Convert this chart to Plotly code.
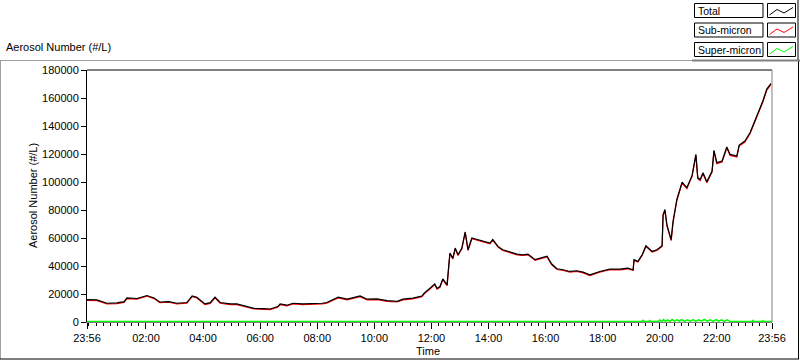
import pandas as pd
import plotly.graph_objects as go

# ---------------- data (minutes after 23:56 start, values in #/L) ----------------
total_min = [0, 21, 42, 63, 78, 84, 105, 126, 141, 153, 172, 189, 210, 221, 231, 248, 259, 269, 280,
             301, 315, 330, 351, 372, 385, 401, 406, 420, 433, 454, 475, 494, 504, 528, 547, 574, 589,
             610, 631, 652, 664, 685, 704, 710, 721, 731, 736, 742, 748, 757, 761, 763, 769, 774, 780,
             788, 795, 801, 809, 820, 832, 847, 853, 864, 874, 889, 904, 916, 927, 942, 956, 967, 977,
             988, 1001, 1015, 1030, 1043, 1057, 1068, 1078, 1099, 1120, 1137, 1148, 1150, 1158, 1167,
             1175, 1188, 1198, 1209, 1211, 1215, 1219, 1228, 1232, 1240, 1247, 1251, 1261, 1272, 1280,
             1284, 1289, 1295, 1303, 1314, 1318, 1324, 1335, 1345, 1352, 1366, 1371, 1383, 1394, 1404,
             1413, 1421, 1429, 1438]
total_val = [16000, 15800, 13400, 13600, 14500, 17200, 16800, 18900, 17200, 14300, 14600, 13400, 13900,
             18600, 17700, 12900, 13800, 17700, 13900, 12900, 12900, 11500, 9800, 9500, 9300, 11000,
             12900, 12000, 13400, 12900, 12900, 13400, 13900, 17700, 16300, 18600, 16300, 16500, 15300,
             14800, 16300, 17000, 18600, 21000, 24100, 27200, 24000, 25300, 30800, 26500, 42100, 49300,
             45500, 52800, 48000, 52800, 64300, 51600, 60000, 59000, 57600, 56400, 58900, 54000, 51600,
             50000, 48500, 48000, 48500, 44500, 45700, 47000, 41400, 38000, 37300, 36100, 36600, 35600,
             33700, 35100, 36100, 37800, 37800, 38500, 37300, 44500, 43300, 48000, 54500, 50400, 51600,
             54500, 76700, 80300, 69600, 58800, 71900, 87500, 94700, 99900, 95900, 104700, 119700,
             103000, 101800, 106600, 100200, 107800, 122600, 113800, 115000, 125000, 119700, 118500,
             126400, 129300, 135300, 143600, 150800, 158000, 166400, 170400]
sub_val = [15500, 15300, 12900, 13100, 14000, 16700, 16300, 18400, 16700, 13800, 14100, 12900, 13400,
           18100, 17200, 12400, 13300, 17200, 13400, 12400, 12400, 11000, 9300, 9000, 8800, 10500,
           12400, 11500, 12900, 12400, 12400, 12900, 13400, 17200, 15800, 18100, 15800, 16000, 14800,
           14300, 15800, 16500, 18100, 20500, 23600, 26700, 23500, 24800, 30300, 26000, 41600, 48800,
           45000, 52300, 47500, 52300, 63800, 51100, 59500, 58500, 57100, 55900, 58400, 53500, 51100,
           49500, 48000, 47500, 48000, 44000, 45200, 46500, 40900, 37500, 36800, 35600, 36100, 35100,
           33200, 34600, 35600, 37300, 37300, 38000, 36800, 44000, 42800, 47500, 54000, 49900, 51100,
           54000, 76000, 79600, 68900, 58100, 71200, 86800, 94000, 99200, 95200, 104000, 119000,
           102300, 101100, 105900, 99500, 107100, 121900, 113100, 114300, 124300, 119000, 117800,
           125700, 128600, 134600, 142900, 150100, 157300, 165700, 169700]
super_min = [0, 120, 240, 360, 480, 600, 720, 840, 960, 1080, 1166, 1169, 1172, 1180, 1183, 1186, 1202,
             1204, 1208, 1212, 1216, 1220, 1225, 1230, 1235, 1240, 1245, 1250, 1256, 1262, 1268, 1274,
             1280, 1286, 1292, 1298, 1304, 1310, 1316, 1322, 1328, 1334, 1340, 1346, 1352, 1360, 1398,
             1400, 1402, 1419, 1421, 1423, 1440]
super_val = [300, 250, 300, 200, 250, 300, 350, 300, 250, 300, 300, 1300, 300, 300, 1100, 300, 300,
             1500, 400, 1700, 500, 1500, 400, 1800, 600, 1600, 700, 1700, 500, 1500, 600, 1700, 500,
             1600, 700, 1800, 600, 1500, 500, 1700, 600, 1600, 500, 1500, 400, 300, 300, 1100, 300,
             300, 1000, 300, 300]

y_ticks = [0, 20000, 40000, 60000, 80000, 100000, 120000, 140000, 160000, 180000]
start = pd.Timestamp("2010-01-01 23:56")
x_tick_times = ["2010-01-01 23:56", "2010-01-02 02:00", "2010-01-02 04:00", "2010-01-02 06:00",
                "2010-01-02 08:00", "2010-01-02 10:00", "2010-01-02 12:00", "2010-01-02 14:00",
                "2010-01-02 16:00", "2010-01-02 18:00", "2010-01-02 20:00", "2010-01-02 22:00",
                "2010-01-02 23:56"]
legend_names = ["Total", "Sub-micron", "Super-micron"]
legend_colors = ["#000000", "#ff0000", "#00ff00"]

# ---------------- figure ----------------
def tx(mins):
    return start + pd.to_timedelta(mins, unit="min")

FONT = "Liberation Sans"
W, H = 800, 361
L, R, T, B = 87, 772, 70, 322

def px(x):
    return (x - L) / (R - L)

def py(y):
    return (B - y) / (B - T)

fig = go.Figure()
fig.add_trace(go.Scatter(x=tx(super_min), y=super_val, mode="lines", name=legend_names[2],
                         line=dict(color=legend_colors[2], width=1.5)))
fig.add_trace(go.Scatter(x=tx(total_min), y=sub_val, mode="lines", name=legend_names[1],
                         line=dict(color=legend_colors[1], width=1.2)))
fig.add_trace(go.Scatter(x=tx(total_min), y=total_val, mode="lines", name=legend_names[0],
                         line=dict(color=legend_colors[0], width=1.2)))

tickvals = pd.to_datetime(x_tick_times)
fig.update_xaxes(range=[tickvals[0], tickvals[-1]], tickmode="array", tickvals=tickvals,
                 ticktext=[t.strftime("%H:%M") for t in tickvals], ticks="outside", ticklen=6,
                 tickcolor="black", tickwidth=1, showgrid=False, zeroline=False, showline=True,
                 linecolor="#808080", linewidth=1,
                 tickfont=dict(family=FONT, size=11, color="black"),
                 minor=dict(dtick=15 * 60 * 1000, tick0="2010-01-02 00:00", ticks="outside",
                            ticklen=3, tickcolor="black", tickwidth=1, showgrid=False))
fig.update_yaxes(range=[0, 180000], tickmode="array", tickvals=y_ticks,
                 ticktext=[str(v) for v in y_ticks], ticks="outside", ticklen=5, tickcolor="black",
                 tickwidth=1, showgrid=False, zeroline=False, showline=True, linecolor="black",
                 linewidth=1, tickfont=dict(family=FONT, size=11, color="black"))

shapes = []
def line(x0, y0, x1, y1, color, width=1):
    shapes.append(dict(type="line", xref="paper", yref="paper", x0=px(x0), y0=py(y0),
                       x1=px(x1), y1=py(y1), line=dict(color=color, width=width)))

# plot frame top/right
line(L, T, R, T, "black")
line(R, T, R, B, "#808080")
# outer panel
line(0, 60.5, 692, 60.5, "#a0a0a0")
line(0.5, 60, 0.5, 359, "#a0a0a0")
line(0, 359, 799, 359, "black")
line(798.5, 60, 798.5, 359, "black")
# legend panel edges
line(692, 60.5, 800, 60.5, "#808080", 2)
line(798, 0, 798, 61, "#808080", 2)

annotations = []
tops = [3.5, 23, 42.5]
for name, color, top in zip(legend_names, legend_colors, tops):
    bot = top + 14
    shapes.append(dict(type="rect", xref="paper", yref="paper", x0=px(694.5), x1=px(763),
                       y0=py(bot), y1=py(top), line=dict(color="black", width=1),
                       fillcolor="white"))
    shapes.append(dict(type="rect", xref="paper", yref="paper", x0=px(767.5), x1=px(795.5),
                       y0=py(bot), y1=py(top), line=dict(color="black", width=1),
                       fillcolor="white"))
    pts = [(769.5, top + 11.5), (777, top + 6), (784, top + 9.5), (793, top + 4)]
    path = "M " + " L ".join(f"{px(a):.5f},{py(b):.5f}" for a, b in pts)
    shapes.append(dict(type="path", xref="paper", yref="paper", path=path,
                       line=dict(color=color, width=1)))
    annotations.append(dict(text=name, xref="paper", yref="paper", x=px(695.5), y=py(top + 7.5),
                            xanchor="left", yanchor="middle", showarrow=False,
                            font=dict(family=FONT, size=10.5, color="black")))

annotations.append(dict(text="Aerosol Number (#/L)", xref="paper", yref="paper", x=px(4),
                        y=py(47), xanchor="left", yanchor="middle", showarrow=False,
                        font=dict(family=FONT, size=11, color="black")))
annotations.append(dict(text="Aerosol Number (#/L)", xref="paper", yref="paper", x=px(33),
                        y=py(196), xanchor="center", yanchor="middle", textangle=-90,
                        showarrow=False, font=dict(family=FONT, size=11, color="black")))
annotations.append(dict(text="Time", xref="paper", yref="paper", x=px(428), y=py(351),
                        xanchor="center", yanchor="middle", showarrow=False,
                        font=dict(family=FONT, size=11, color="black")))

fig.update_layout(width=W, height=H, showlegend=False, paper_bgcolor="white",
                  plot_bgcolor="white", shapes=shapes, annotations=annotations,
                  margin=dict(l=L, r=W - R, t=T, b=H - B, autoexpand=False))

fig.write_html("out.html", config={"displayModeBar": False},
               post_script="document.body.style.margin='0';")
